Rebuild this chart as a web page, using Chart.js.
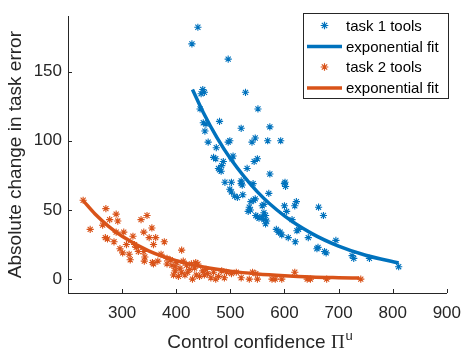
<!DOCTYPE html>
<html>
<head>
<meta charset="utf-8">
<script src="https://cdn.jsdelivr.net/npm/chart.js@4.4.1/dist/chart.umd.min.js"></script>
<style>
html,body{margin:0;padding:0;background:#fff;}
canvas{display:block;}
</style>
</head>
<body>
<canvas id="c" width="471" height="355"></canvas>
<script>
// ---- data ----
const task1X = [440,429,496,528,551,446,449,452,444,450,455,453,480,520,573,459,474,496,499,540,546,569,593,469,473,487,484,478,483,480,505,503,544,550,531,573,490,502,520,601,520,522,542,600,602,499,502,508,513,523,571,546,543,538,535,537,533,559,562,562,565,559,553,562,567,565,550,547,600,604,619,622,663,672,614,585,589,595,592,607,620,623,626,644,695,662,660,674,677,725,728,757,811];
const task1Y = [182,170,159,135,123,134,137,135,123,113,112,107,114,109,110,99,95,99,100,99,102,100,100,88,87,85,82,80,78,79,89,87,85,87,80,76,70,70,71,70,69,68,69,69,67,65,63,60,59,61,62,58,57,56,52,50,49,53,54,48,46,45,44,43,42,40,45,46,53,49,53,56,52,46,43,36,34,32,34,30,27,35,36,30,28,23,22,20,19,17,15,15,9];
const fit1X = [430,450,475,500,550,600,650,700,750,811];
const fit1Y = [137,120.4,102.4,87.2,63.1,45.7,33.1,23.9,17.3,11.7];

const task2X = [228,241,270,277,289,292,264,269,273,289,303,320,335,346,340,355,350,362,358,378,323,326,301,313,315,340,342,341,356,358,410,383,389,383,392,401,407,413,419,428,434,430,436,440,425,449,455,464,469,473,484,489,493,502,511,520,535,541,547,550,577,583,595,619,642,648,678,741,395,398,404,410,416,421,437,443,452,458,478,398,372,366,330,308,285,296];
const task2Y = [57,36,51,43,47,42,39,30,29,34,34,31,43,46,34,37,30,30,25,27,25,23,19,18,14,20,16,13,12,11,21,15,14,11,10,12,8,13,10,11,8,0,12,11,7,6,7,1,5,0,6,1,5,4,5,1,0,5,4,0,0,0,0,5,0,0,0,0,3,6,2,5,3,5,3,2,3,4,2,9,18,13,20,25,27,22];
const fit2X = [228,250,275,300,350,400,450,500,550,600,650,700,738];
const fit2Y = [56.7,47.1,38.2,31.0,20.3,13.4,8.8,5.8,3.8,2.5,1.6,1.1,0.8];

const xTicks = [300,400,500,600,700,800,900];
const yTicks = [0,50,100,150];
const labels = ['task 1 tools','exponential fit','task 2 tools','exponential fit'];
const xTitle = 'Control confidence ';
const yTitle = 'Absolute change in task error';

const BLUE = '#0072BD', ORANGE = '#D95319', AX = '#262626';
const pts = (xs, ys) => xs.map((x, i) => ({x, y: ys[i]}));

const tickMarks = {
  id: 'tickMarks',
  afterDraw(chart) {
    const ctx = chart.ctx, a = chart.chartArea;
    const xs = chart.scales.x, ys = chart.scales.y;
    ctx.save();
    ctx.strokeStyle = AX; ctx.lineWidth = 1;
    ctx.beginPath();
    xTicks.forEach(v => { const p = Math.round(xs.getPixelForValue(v)) + 0.5; ctx.moveTo(p, a.bottom); ctx.lineTo(p, a.bottom - 4); });
    yTicks.forEach(v => { const p = Math.round(ys.getPixelForValue(v)) + 0.5; ctx.moveTo(a.left, p); ctx.lineTo(a.left + 4, p); });
    ctx.stroke();
    // x axis title with superscript
    ctx.fillStyle = AX;
    ctx.textBaseline = 'alphabetic';
    ctx.font = '19px "Liberation Sans", Arial, sans-serif';
    const w1 = ctx.measureText(xTitle).width;
    ctx.font = '19px "Liberation Serif", serif';
    const w2 = ctx.measureText('\u03A0').width;
    ctx.font = '13px "Liberation Sans", Arial, sans-serif';
    const w3 = ctx.measureText('u').width;
    const total = w1 + w2 + w3 + 1;
    let x0 = 260 - total / 2;
    const base = 348;
    ctx.font = '19px "Liberation Sans", Arial, sans-serif';
    ctx.fillText(xTitle, x0, base);
    ctx.font = '19px "Liberation Serif", serif';
    ctx.fillText('\u03A0', x0 + w1, base);
    ctx.font = '13px "Liberation Sans", Arial, sans-serif';
    ctx.fillText('u', x0 + w1 + w2 + 1, base - 8);
    // legend
    const L = 303.5, T = 13.5, R = 448.5, B = 98.5;
    ctx.fillStyle = '#fff';
    ctx.fillRect(L, T, R - L, B - T);
    ctx.strokeStyle = AX; ctx.lineWidth = 1;
    ctx.strokeRect(L, T, R - L, B - T);
    const rows = [25.5, 46.5, 67, 88];
    const ds = chart.data.datasets;
    ctx.font = '15px "Liberation Sans", Arial, sans-serif';
    ctx.textBaseline = 'middle';
    ds.forEach((d, i) => {
      const y = rows[i];
      if (d.showLine) {
        ctx.strokeStyle = d.borderColor; ctx.lineWidth = 3.5;
        ctx.beginPath(); ctx.moveTo(307, y); ctx.lineTo(342, y); ctx.stroke();
      } else {
        ctx.strokeStyle = d.borderColor; ctx.lineWidth = 1.2;
        ctx.beginPath();
        const r = 3.8, q = r * 0.7071;
        ctx.moveTo(324.5 - r, y); ctx.lineTo(324.5 + r, y);
        ctx.moveTo(324.5, y - r); ctx.lineTo(324.5, y + r);
        ctx.moveTo(324.5 - q, y - q); ctx.lineTo(324.5 + q, y + q);
        ctx.moveTo(324.5 - q, y + q); ctx.lineTo(324.5 + q, y - q);
        ctx.stroke();
      }
      ctx.fillStyle = '#000';
      ctx.fillText(d.label, 346, y + 1);
    });
    ctx.restore();
  }
};

new Chart(document.getElementById('c'), {
  type: 'scatter',
  data: {
    datasets: [
      {label: labels[0], data: pts(task1X, task1Y), showLine: false, pointStyle: 'star', pointRadius: 3.6, borderWidth: 1.1, borderColor: BLUE, backgroundColor: BLUE, order: 3},
      {label: labels[1], data: pts(fit1X, fit1Y), showLine: true, pointRadius: 0, borderWidth: 3.5, borderColor: BLUE, backgroundColor: BLUE, cubicInterpolationMode: 'monotone', order: 2},
      {label: labels[2], data: pts(task2X, task2Y), showLine: false, pointStyle: 'star', pointRadius: 3.6, borderWidth: 1.1, borderColor: ORANGE, backgroundColor: ORANGE, order: 1},
      {label: labels[3], data: pts(fit2X, fit2Y), showLine: true, pointRadius: 0, borderWidth: 3.5, borderColor: ORANGE, backgroundColor: ORANGE, cubicInterpolationMode: 'monotone', order: 0}
    ]
  },
  options: {
    responsive: false,
    animation: false,
    devicePixelRatio: 1,
    layout: {padding: {left: 0, right: 13, top: 3, bottom: 0}},
    plugins: {legend: {display: false}, tooltip: {enabled: false}},
    scales: {
      x: {
        type: 'linear', min: 200, max: 900,
        afterBuildTicks: s => { s.ticks = xTicks.map(v => ({value: v})); },
        afterFit: s => { s.height = 62; },
        grid: {display: false, drawTicks: false},
        border: {display: true, color: AX, width: 1},
        ticks: {font: {size: 17, family: '"Liberation Sans", Arial, sans-serif'}, color: AX, padding: 10, maxRotation: 0, autoSkip: false}
      },
      y: {
        type: 'linear', min: -10, max: 190,
        afterBuildTicks: s => { s.ticks = yTicks.map(v => ({value: v})); },
        afterFit: s => { s.width = 68; },
        grid: {display: false, drawTicks: false},
        border: {display: true, color: AX, width: 1},
        ticks: {font: {size: 17, family: '"Liberation Sans", Arial, sans-serif'}, color: AX, padding: 6, autoSkip: false},
        title: {display: true, text: yTitle, font: {size: 19, family: '"Liberation Sans", Arial, sans-serif'}, color: AX, padding: {top: 4, bottom: 0}}
      }
    }
  },
  plugins: [tickMarks]
});
</script>
</body>
</html>
